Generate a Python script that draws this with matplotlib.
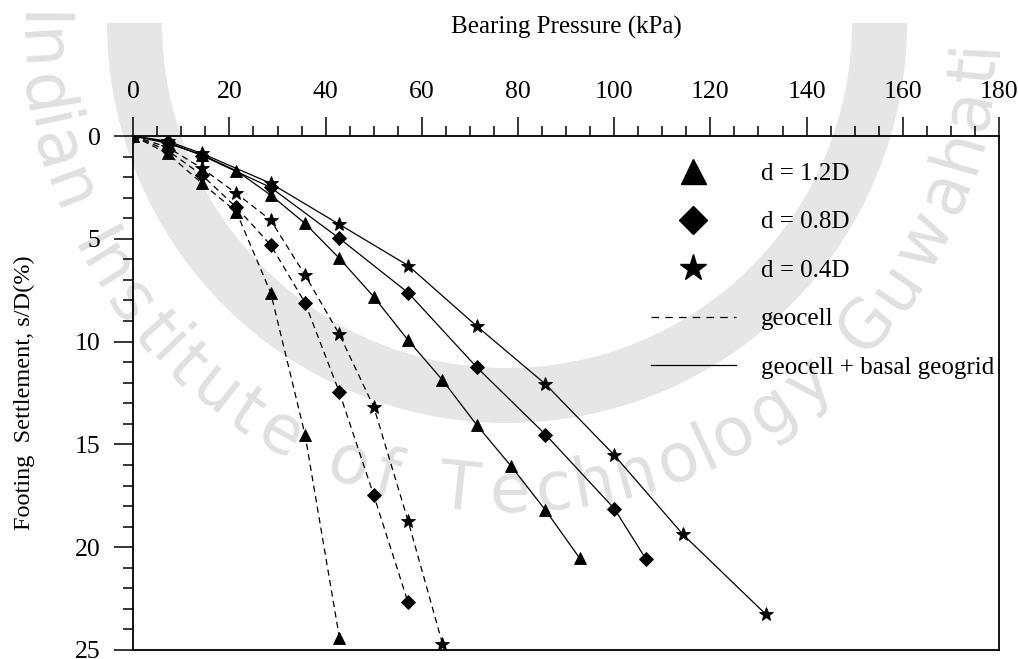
import numpy as np
import matplotlib
matplotlib.use("Agg")
import matplotlib.pyplot as plt
from matplotlib.lines import Line2D
from matplotlib.patches import Wedge
from matplotlib.ticker import MultipleLocator
from matplotlib.textpath import TextPath
from matplotlib.font_manager import FontProperties

plt.rcParams["font.family"] = ["Liberation Serif", "DejaVu Serif"]

# Bearing pressure (kPa) and settlement s/D (%) for each test series
# geocell only (dashed)
gc_12_p = [0, 7.14, 14.29, 21.43, 28.57, 35.71, 42.86]
gc_12_s = [0, 0.85, 2.30, 3.68, 7.62, 14.52, 24.40]
gc_08_p = [0, 7.14, 14.29, 21.43, 28.57, 35.71, 42.86, 50.00, 57.14]
gc_08_s = [0, 0.70, 1.90, 3.47, 5.30, 8.11, 12.47, 17.47, 22.69]
gc_04_p = [0, 7.14, 14.29, 21.43, 28.57, 35.71, 42.86, 50.00, 57.14, 64.29]
gc_04_s = [0, 0.55, 1.57, 2.79, 4.09, 6.76, 9.65, 13.17, 18.72, 24.69]

# geocell + basal geogrid (solid)
gg_12_p = [0, 7.14, 14.29, 21.43, 28.57, 35.71, 42.86, 50.00, 57.14, 64.29,
           71.43, 78.57, 85.71, 92.86]
gg_12_s = [0, 0.35, 0.92, 1.69, 2.87, 4.25, 5.95, 7.82, 9.93, 11.87,
           14.06, 16.06, 18.20, 20.55]
gg_08_p = [0, 7.14, 14.29, 28.57, 42.86, 57.14, 71.43, 85.71, 100.00, 106.60]
gg_08_s = [0, 0.30, 0.95, 2.50, 4.98, 7.62, 11.25, 14.52, 18.12, 20.58]
gg_04_p = [0, 7.14, 14.29, 28.57, 42.86, 57.14, 71.43, 85.71, 100.00, 114.29,
           131.50]
gg_04_s = [0, 0.25, 0.85, 2.30, 4.30, 6.30, 9.25, 12.07, 15.52, 19.38, 23.26]

depth_labels = ["d = 1.2D", "d = 0.8D", "d = 0.4D"]
type_labels = ["geocell", "geocell + basal geogrid"]
watermark_text = "Indian Institute of Technology Guwahati"

W, H = 1018, 659
fig = plt.figure(figsize=(W / 100, H / 100), dpi=100)

# faint institute watermark behind the plot (figure pixel coordinates)
bg = fig.add_axes([0, 0, 1, 1], zorder=0)
bg.set_xlim(0, W)
bg.set_ylim(0, H)
bg.axis("off")
cx, cy, R = 507, H - 23, 470
bg.add_patch(Wedge((cx, cy), 400, 180, 360, width=55,
                   facecolor="#e6e6e6", edgecolor="none"))
wm_font = FontProperties(family="DejaVu Sans", weight="normal")
wm_size = 48
widths = [TextPath((0, 0), ch if ch != " " else "n", size=wm_size * 1.39,
                   prop=wm_font).get_extents().width * (0.6 if ch == " " else 1.0)
          for ch in watermark_text]
widths = np.array(widths) + 6
total = widths.sum()
start, end = np.deg2rad(179), np.deg2rad(358)
scale = (end - start) * R / total
pos = 0.0
for ch, w in zip(watermark_text, widths):
    phi = start + (pos + w / 2) * scale / R
    pos += w
    if ch == " ":
        continue
    bg.text(cx + R * np.cos(phi), cy + R * np.sin(phi), ch,
            rotation=np.rad2deg(phi) + 90, rotation_mode="anchor",
            ha="center", va="center", fontsize=wm_size, color="#e0e0e0",
            fontproperties=wm_font)

ax = fig.add_axes([0.1309, 0.0137, 0.8504, 0.7799], zorder=1)
ax.patch.set_alpha(0)

dash = (0, (5, 3.5))
mk = {"^": 9, "D": 7.5, "*": 10}

series = [
    (gc_12_p, gc_12_s, "^", dash),
    (gc_08_p, gc_08_s, "D", dash),
    (gc_04_p, gc_04_s, "*", dash),
    (gg_12_p, gg_12_s, "^", "-"),
    (gg_08_p, gg_08_s, "D", "-"),
    (gg_04_p, gg_04_s, "*", "-"),
]
for p, s, m, ls in series:
    ax.plot(p, s, color="black", linestyle=ls, linewidth=0.9,
            marker=m, markersize=mk[m], markerfacecolor="black",
            markeredgecolor="black", markeredgewidth=0.6)

ax.set_xlim(0, 180)
ax.set_ylim(25, 0)
ax.xaxis.tick_top()
ax.xaxis.set_label_position("top")
ax.xaxis.set_major_locator(MultipleLocator(20))
ax.xaxis.set_minor_locator(MultipleLocator(5))
ax.yaxis.set_major_locator(MultipleLocator(5))
ax.yaxis.set_minor_locator(MultipleLocator(1))
ax.tick_params(which="major", direction="out", length=13.5, width=1.1,
               labelsize=18.5, pad=10)
ax.tick_params(which="minor", direction="out", length=7, width=1.1)
ax.tick_params(axis="x", which="both", top=True, bottom=False)
for sp in ax.spines.values():
    sp.set_linewidth(1.3)

ax.set_xlabel("Bearing Pressure (kPa)", fontsize=18, labelpad=34.5)
ax.set_ylabel("Footing  Settlement, s/D(%)", fontsize=17.5, labelpad=29)

handles = [
    Line2D([], [], color="black", linestyle="none", marker="^", markersize=18),
    Line2D([], [], color="black", linestyle="none", marker="D", markersize=14),
    Line2D([], [], color="black", linestyle="none", marker="*", markersize=20),
    Line2D([], [], color="black", linestyle=(0, (6, 5)), linewidth=0.9),
    Line2D([], [], color="black", linestyle="-", linewidth=0.9),
]
ax.legend(handles, depth_labels + type_labels, loc="upper right",
          bbox_to_anchor=(1.006, 0.968), borderaxespad=0.0, frameon=False,
          fontsize=18, handlelength=3.4, handletextpad=1.0,
          labelspacing=1.04)

fig.savefig("out.png", dpi=100)
